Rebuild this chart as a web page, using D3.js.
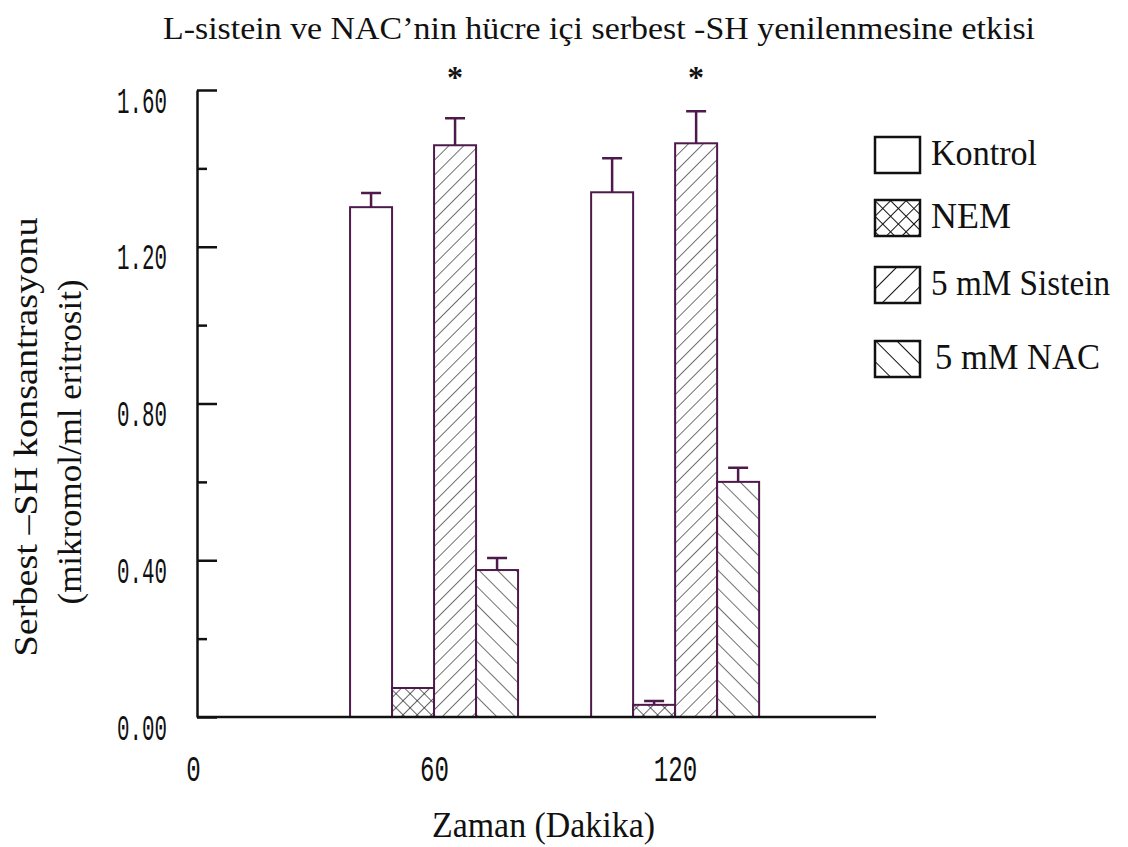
<!DOCTYPE html>
<html>
<head>
<meta charset="utf-8">
<title>L-sistein ve NAC</title>
<style>
    body{ margin:0; background:#fff; }
    text{ font-family:"Liberation Serif","Times New Roman",serif; fill:#111; }
    .tick text{ font-family:"Liberation Mono","DejaVu Sans Mono",monospace; }
    .bar{ stroke:#4e1a4c; stroke-width:2; }
    .err{ stroke:#4e1a4c; stroke-width:2.5; fill:none; }
</style>
</head>
<body>
<script src="https://d3js.org/d3.v7.min.js"></script>
<script>
var width = 1128, height = 847;

// data
var times = [60, 120];
var groups = ["Kontrol", "NEM", "5 mM Sistein", "5 mM NAC"];
var kontrol  = [1.301, 1.339];
var nem      = [0.074, 0.031];
var sistein  = [1.459, 1.464];
var nac      = [0.375, 0.600];
var kontrolErr = [0.036, 0.087];
var nemErr     = [0.000, 0.010];
var sisteinErr = [0.069, 0.082];
var nacErr     = [0.031, 0.036];
var yTicks = [0, 0.4, 0.8, 1.2, 1.6];
var yMinor = [0.2, 0.6, 1.0, 1.4];
var xTicks = [0, 60, 120];
var starred = [true, true];   // * over the Sistein bars

var values = [kontrol, nem, sistein, nac];
var errs = [kontrolErr, nemErr, sisteinErr, nacErr];

var svg = d3.select("body").append("svg")
    .attr("width", width)
    .attr("height", height);

var y = d3.scaleLinear().domain([0, 1.6]).range([717, 90]);
var x = d3.scaleLinear().domain([0, 170]).range([193, 876]);
var barW = 42;
var offs = [-2, -1, 0, 1];   // bar slot relative to the time position

// hatch patterns
var defs = svg.append("defs");
function hatch(id, size, angle, sw){
    var p = defs.append("pattern").attr("id", id)
        .attr("patternUnits", "userSpaceOnUse")
        .attr("width", size).attr("height", size)
        .attr("patternTransform", "rotate(" + angle + ")");
    p.append("rect").attr("width", size).attr("height", size).attr("fill", "#fff");
    p.append("line").attr("x1", 0).attr("y1", 0).attr("x2", 0).attr("y2", size)
        .attr("stroke", "#111").attr("stroke-width", sw);
}
function cross(id, size, sw){
    var p = defs.append("pattern").attr("id", id)
        .attr("patternUnits", "userSpaceOnUse")
        .attr("width", size).attr("height", size)
        .attr("patternTransform", "rotate(45)");
    p.append("rect").attr("width", size).attr("height", size).attr("fill", "#fff");
    p.append("line").attr("x1", 0).attr("y1", 0).attr("x2", 0).attr("y2", size)
        .attr("stroke", "#111").attr("stroke-width", sw);
    p.append("line").attr("x1", 0).attr("y1", 0).attr("x2", size).attr("y2", 0)
        .attr("stroke", "#111").attr("stroke-width", sw);
}
cross("pNem", 10, 1.3);
hatch("pSis", 10.5, 45, 1.2);
hatch("pNac", 13, -45, 1.2);
cross("lNem", 11, 2);
hatch("lSis", 15, 45, 2);
hatch("lNac", 15, -45, 2);
var fills = ["#fff", "url(#pNem)", "url(#pSis)", "url(#pNac)"];
var lfills = ["#fff", "url(#lNem)", "url(#lSis)", "url(#lNac)"];

// bars + error bars
groups.forEach(function(g, gi){
    var layer = svg.append("g");
    layer.selectAll("rect").data(values[gi]).enter().append("rect")
        .attr("class", "bar")
        .attr("x", function(d, i){ return x(times[i]) + offs[gi] * barW; })
        .attr("y", function(d){ return y(d); })
        .attr("width", barW)
        .attr("height", function(d){ return y(0) - y(d); })
        .attr("fill", fills[gi]);
    layer.selectAll("path").data(values[gi]).enter().append("path")
        .attr("class", "err")
        .attr("d", function(d, i){
            if(errs[gi][i] <= 0) return null;
            var cx = x(times[i]) + offs[gi] * barW + barW / 2;
            var top = y(d + errs[gi][i]);
            return "M" + cx + "," + y(d) + "V" + top + "M" + (cx - 10) + "," + top + "H" + (cx + 10);
        });
});

// asterisks
svg.selectAll(".star").data(times).enter().append("text")
    .attr("class", "star")
    .attr("x", function(d){ return x(d) + barW / 2; })
    .attr("y", 88)
    .attr("text-anchor", "middle")
    .style("font-size", "32px")
    .style("font-weight", "bold")
    .text(function(d, i){ return starred[i] ? "*" : ""; });

// y axis
var yAxis = svg.append("g").attr("transform", "translate(197,0)")
    .call(d3.axisLeft(y).tickValues(yTicks).tickFormat(d3.format(".2f"))
        .tickSize(-20).tickSizeOuter(0).tickPadding(30));
yAxis.select(".domain").attr("stroke", "#111").attr("stroke-width", 2.5);
yAxis.selectAll(".tick line").attr("stroke", "#111").attr("stroke-width", 2.5);
yAxis.selectAll(".tick text")
    .style("font-size", "37px")
    .attr("dy", "22px")
    .attr("textLength", 50).attr("lengthAdjust", "spacingAndGlyphs");
var yMin = svg.append("g").attr("transform", "translate(197,0)")
    .call(d3.axisLeft(y).tickValues(yMinor).tickFormat("").tickSize(-10).tickSizeOuter(0));
yMin.select(".domain").remove();
yMin.selectAll(".tick line").attr("stroke", "#111").attr("stroke-width", 2.5);

// x axis
svg.append("line").attr("x1", 197).attr("x2", x(170)).attr("y1", y(0)).attr("y2", y(0))
    .attr("stroke", "#111").attr("stroke-width", 2.5);
var xAxis = svg.append("g").attr("transform", "translate(0," + y(0) + ")")
    .call(d3.axisBottom(x).tickValues(xTicks).tickSize(0).tickPadding(40));
xAxis.select(".domain").remove();
xAxis.selectAll(".tick text")
    .style("font-size", "37px")
    .attr("dy", "0.66em")
    .attr("textLength", function(d){ return String(d).length * 14.5; })
    .attr("lengthAdjust", "spacingAndGlyphs");

// title and axis titles
svg.append("text").attr("x", 163).attr("y", 39)
    .style("font-size", "32px")
    .attr("textLength", 872).attr("lengthAdjust", "spacingAndGlyphs")
    .text("L-sistein ve NAC\u2019nin hücre içi serbest -SH yenilenmesine etkisi");
svg.append("text").attr("x", 432).attr("y", 837)
    .style("font-size", "35px")
    .attr("textLength", 223).attr("lengthAdjust", "spacingAndGlyphs")
    .text("Zaman (Dakika)");
svg.append("text")
    .attr("transform", "translate(37,437) rotate(-90)")
    .attr("text-anchor", "middle")
    .style("font-size", "33px")
    .attr("textLength", 439).attr("lengthAdjust", "spacingAndGlyphs")
    .text("Serbest \u2013SH konsantrasyonu");
svg.append("text")
    .attr("transform", "translate(81,442) rotate(-90)")
    .attr("text-anchor", "middle")
    .style("font-size", "33px")
    .attr("textLength", 325).attr("lengthAdjust", "spacingAndGlyphs")
    .text("(mikromol/ml eritrosit)");

// legend
var legY = [137, 200, 267, 341];
var legW = [106, 80, 179, 165];
var leg = svg.append("g").selectAll("g").data(groups).enter().append("g")
    .attr("transform", function(d, i){ return "translate(875," + legY[i] + ")"; });
leg.append("rect").attr("width", 45).attr("height", 36)
    .attr("fill", function(d, i){ return lfills[i]; })
    .attr("stroke", "#111").attr("stroke-width", 2.5);
leg.append("text").attr("x", function(d, i){ return i == 3 ? 60 : 56; }).attr("y", 28)
    .style("font-size", "35px")
    .attr("textLength", function(d, i){ return legW[i]; })
    .attr("lengthAdjust", "spacingAndGlyphs")
    .text(function(d){ return d; });
</script>
</body>
</html>
